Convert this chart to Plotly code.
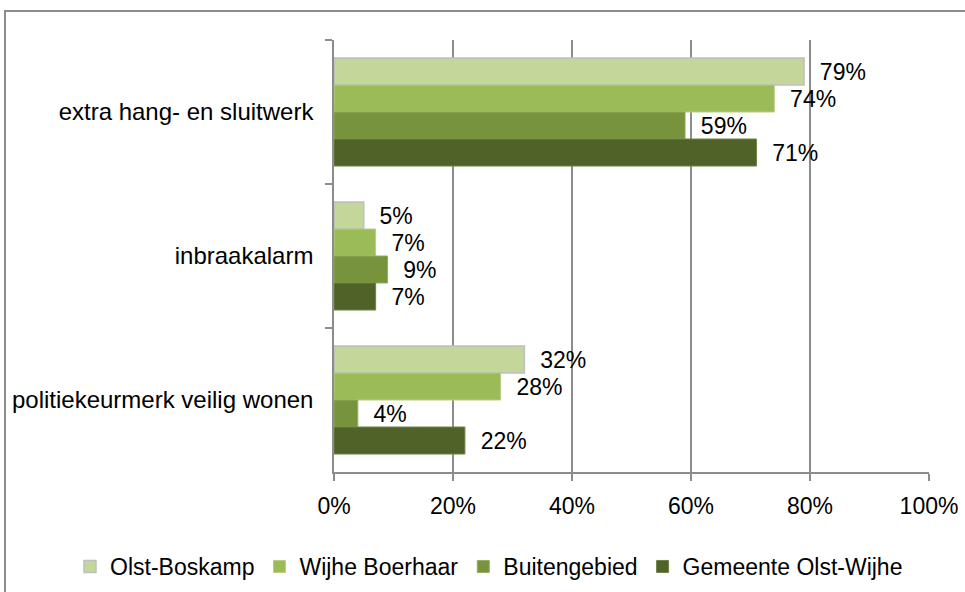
import plotly.graph_objects as go

categories = ["extra hang- en sluitwerk", "inbraakalarm", "politiekeurmerk veilig wonen"]
series_names = ["Olst-Boskamp", "Wijhe Boerhaar", "Buitengebied", "Gemeente Olst-Wijhe"]
olst_boskamp = [79, 5, 32]
wijhe_boerhaar = [74, 7, 28]
buitengebied = [59, 9, 4]
gemeente = [71, 7, 22]
x_ticks = [0, 20, 40, 60, 80, 100]
x_tick_labels = ["0%", "20%", "40%", "60%", "80%", "100%"]

values = [olst_boskamp, wijhe_boerhaar, buitengebied, gemeente]
colors = ["#C4D79B", "#9BBB59", "#77933C", "#4F6228"]
outline = ["#BFBFBF", "#B5CE85", "#93AE5C", "#6E8245"]

W, H = 965, 592
L, R, T, B = 334, 36, 40, 120
pw, ph = W - L - R, H - T - B

fig = go.Figure()
for name, vals, c, oc in zip(series_names, values, colors, outline):
    fig.add_trace(go.Bar(
        y=categories, x=vals, name=name, orientation="h",
        marker=dict(color=c, line=dict(color=oc, width=1.5 if name == "Olst-Boskamp" else 1)),
        text=[f"\u00a0\u00a0{v}%" for v in vals], textposition="outside",
        textfont=dict(size=23, color="black"), cliponaxis=False,
        hoverinfo="skip",
    ))

fig.update_layout(
    width=W, height=H,
    margin=dict(l=L, r=R, t=T, b=B, autoexpand=False),
    paper_bgcolor="white", plot_bgcolor="white",
    font=dict(family="Liberation Sans, Arial, sans-serif", size=24, color="black"),
    barmode="group", bargap=0.25, bargroupgap=0,
    showlegend=True,
    legend=dict(orientation="h", xref="paper", yref="paper",
                x=(70 - L) / pw, xanchor="left",
                y=(H - B - 545) / ph, yanchor="top", font=dict(size=23),
                traceorder="normal", itemwidth=30,
                bgcolor="rgba(0,0,0,0)", tracegroupgap=0),
    xaxis=dict(range=[0, 100], tickvals=x_ticks, ticktext=x_tick_labels,
               showgrid=True, gridcolor="#8C8C8C", gridwidth=1.5, zeroline=False,
               showline=True, linecolor="#8C8C8C", linewidth=1.5,
               ticks="outside", ticklen=7, tickcolor="#8C8C8C", tickwidth=1.5,
               ticklabelstandoff=6, tickfont=dict(size=23), fixedrange=True),
    yaxis=dict(autorange="reversed", showgrid=False, zeroline=False,
               showline=True, linecolor="#8C8C8C", linewidth=1.5,
               ticks="outside", tickson="boundaries", ticklen=7, tickcolor="#8C8C8C",
               tickwidth=1.5, ticklabelstandoff=14, tickfont=dict(size=24)),
)

# outer chart frame (extends past the window edges)
fig.add_shape(type="rect", xref="paper", yref="paper",
              x0=(5 - L) / pw, x1=(975 - L) / pw,
              y0=(H - B - 610) / ph, y1=(H - B - 11) / ph,
              line=dict(color="#8C8C8C", width=2), fillcolor="rgba(0,0,0,0)", layer="below")

fig.write_html("out.html", config={"displayModeBar": False},
               post_script="document.body.style.margin='0px';")
